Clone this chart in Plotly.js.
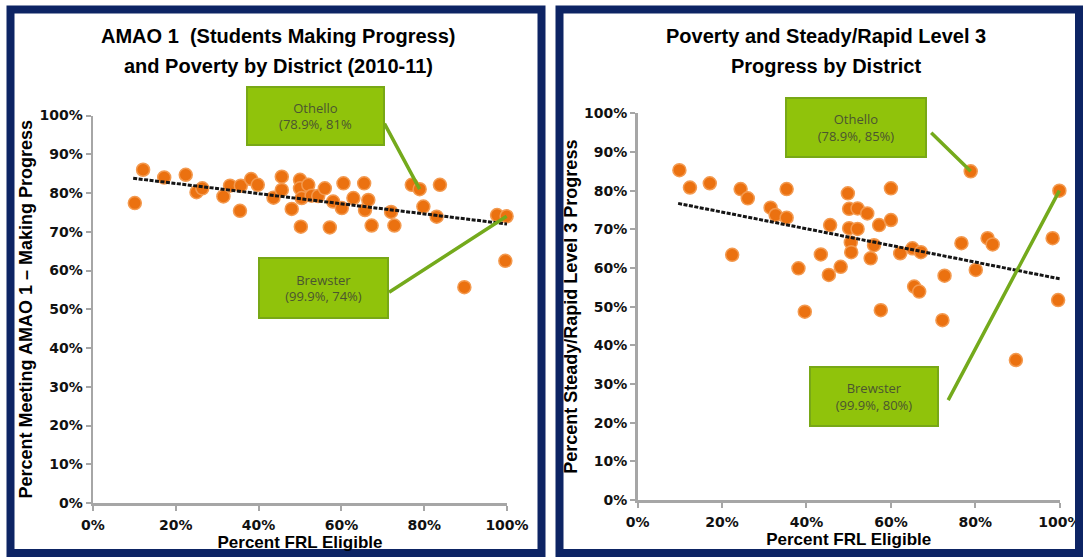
<!DOCTYPE html>
<html>
<head>
<meta charset="utf-8">
<script src="https://cdn.plot.ly/plotly-3.0.1.min.js"></script>
<style>
  html, body { margin: 0; padding: 0; background: #fff; }
  #chart { width: 1083px; height: 557px; }
</style>
</head>
<body>
<div id="chart"></div>
<script>
// ---- AMAO 1 (students making progress) vs. poverty, 2010-11, one point per district ----
const frlAmao = [10.1, 12.1, 17.2, 22.4, 25.0, 26.4, 31.5, 33.1, 35.5, 35.7, 38.2, 39.8,
                 43.6, 45.6, 45.6, 48.0, 50.0, 50.0, 50.2, 50.4, 52.0, 52.8, 54.4, 56.0,
                 57.2, 58.0, 60.1, 60.5, 62.9, 65.5, 65.7, 66.5, 67.3, 72.0, 72.8, 77.0,
                 78.9, 79.8, 83.0, 83.8, 89.7, 97.6, 99.6, 99.9];
const pctAmao = [77.4, 86.0, 84.0, 84.7, 80.2, 81.2, 79.1, 81.9, 75.4, 81.9, 83.6, 82.1,
                 78.8, 84.2, 80.8, 75.9, 83.4, 81.2, 71.3, 78.7, 82.1, 79.3, 79.2, 81.2,
                 71.1, 77.8, 76.1, 82.5, 78.7, 82.5, 75.6, 78.2, 71.6, 75.1, 71.6, 82.1,
                 81.0, 76.5, 73.9, 82.1, 55.7, 74.3, 62.5, 74.0];
const amaoTrendX = [9.7, 100];
const amaoTrendY = [83.8, 72.0];

// ---- Steady/Rapid Level 3 progress vs. poverty, one point per district ----
const frlLevel3 = [9.9, 12.4, 17.1, 22.4, 24.4, 26.1, 31.5, 32.7, 35.3, 35.3, 38.1, 39.6,
                   43.4, 45.3, 45.6, 48.1, 49.8, 50.1, 50.1, 50.5, 50.6, 52.1, 52.1, 54.4,
                   55.2, 56.0, 57.2, 57.6, 60.0, 60.0, 62.2, 65.1, 65.5, 66.7, 67.1, 72.2,
                   72.7, 76.7, 78.9, 80.1, 82.9, 84.1, 89.6, 98.3, 99.6, 99.9];
const pctLevel3 = [85.3, 80.8, 81.9, 63.4, 80.4, 78.0, 75.6, 73.7, 80.4, 73.0, 59.9, 48.7,
                   63.5, 58.2, 71.1, 60.3, 79.3, 75.3, 70.3, 66.6, 64.1, 75.4, 70.1, 74.1,
                   62.5, 65.9, 71.1, 49.1, 80.6, 72.4, 63.8, 65.1, 55.2, 53.9, 64.1, 46.5,
                   58.0, 66.4, 85.0, 59.5, 67.7, 66.1, 36.2, 67.7, 51.7, 80.0];
const level3TrendX = [9.6, 100];
const level3TrendY = [76.7, 57.2];

// ---- shared tick values and labels ----
const xTicks = [0, 20, 40, 60, 80, 100];
const yTicks = [0, 10, 20, 30, 40, 50, 60, 70, 80, 90, 100];
const pctLabel = v => '<b>' + v + '%</b>';

// ---- page geometry helpers (pixels -> paper fractions) ----
const W = 1083, H = 557;
const fx = p => p / W;
const fy = p => 1 - p / H;

const NAVY = '#0D2464';
const ORANGE = '#EB7110';
const GREEN_FILL = '#90C30B';
const GREEN_EDGE = '#78A816';
const GREEN_LINE = '#74AA1C';
const AXIS_GRAY = '#A6A6A6';

const tickFont = { family: 'DejaVu Sans', size: 14, color: '#111' };
const axisTitleFont = { family: 'Liberation Sans', size: 17, color: '#000', weight: 'bold' };

function axisX(domain, anchor) {
  return {
    domain: domain, anchor: anchor, range: [0, 100], tickmode: 'array',
    tickvals: xTicks, ticktext: xTicks.map(pctLabel),
    showgrid: false, zeroline: false, showline: true, linecolor: AXIS_GRAY, linewidth: 2.5,
    ticks: 'outside', ticklen: 5, tickwidth: 2, tickcolor: AXIS_GRAY, tickfont: tickFont,
    ticklabelstandoff: 3,
    title: { text: 'Percent FRL Eligible', font: axisTitleFont, standoff: 4 },
    fixedrange: true
  };
}
function axisY(domain, anchor, titleText) {
  return {
    domain: domain, anchor: anchor, range: [0, 100], tickmode: 'array',
    tickvals: yTicks, ticktext: yTicks.map(pctLabel),
    showgrid: false, zeroline: false, showline: true, linecolor: AXIS_GRAY, linewidth: 2.5,
    ticks: 'outside', ticklen: 5, tickwidth: 2, tickcolor: AXIS_GRAY, tickfont: tickFont,
    title: { text: titleText, font: Object.assign({}, axisTitleFont, { size: 18 }), standoff: 2 },
    fixedrange: true
  };
}

const markerStyle = { color: ORANGE, size: 13, line: { color: '#F39A50', width: 1.5 } };
const trendStyle = { color: '#151515', width: 3, dash: '4px,1.5px' };

const traces = [
  { x: frlAmao, y: pctAmao, type: 'scatter', mode: 'markers', marker: markerStyle,
    xaxis: 'x', yaxis: 'y', cliponaxis: false, hoverinfo: 'x+y' },
  { x: amaoTrendX, y: amaoTrendY, type: 'scatter', mode: 'lines', line: trendStyle,
    xaxis: 'x', yaxis: 'y', hoverinfo: 'skip' },
  { x: frlLevel3, y: pctLevel3, type: 'scatter', mode: 'markers', marker: markerStyle,
    xaxis: 'x2', yaxis: 'y2', cliponaxis: false, hoverinfo: 'x+y' },
  { x: level3TrendX, y: level3TrendY, type: 'scatter', mode: 'lines', line: trendStyle,
    xaxis: 'x2', yaxis: 'y2', hoverinfo: 'skip' }
];

// chart titles, one annotation per line
const titleFont = { family: 'Liberation Sans', size: 20, color: '#000', weight: 'bold' };
const titles = [
  { text: 'AMAO 1  (Students Making Progress)', cx: 278, cy: 36 },
  { text: 'and Poverty by District (2010-11)', cx: 278, cy: 66 },
  { text: 'Poverty and Steady/Rapid Level 3', cx: 826, cy: 36 },
  { text: 'Progress by District', cx: 826, cy: 66 }
];

// labelled districts: callout box plus a leader line to the district's point
const callouts = [
  { ax: 'x', ay: 'y', x: 78.9, y: 81, text: 'Othello<br>(78.9%, 81%',
    box: [247, 87, 384, 145], dx: -36, dy: -67 },
  { ax: 'x', ay: 'y', x: 99.9, y: 74, text: 'Brewster<br>(99.9%, 74%)',
    box: [259, 258, 388, 318], dx: -119, dy: 77 },
  { ax: 'x2', ay: 'y2', x: 78.9, y: 85, text: 'Othello<br>(78.9%, 85%)',
    box: [786, 98, 926, 157], dx: -41, dy: -40 },
  { ax: 'x2', ay: 'y2', x: 99.9, y: 80, text: 'Brewster<br>(99.9%, 80%)',
    box: [810, 367, 938, 426], dx: -112, dy: 211 }
];

const annotations = [];
titles.forEach(t => annotations.push({
  xref: 'paper', yref: 'paper', x: fx(t.cx), y: fy(t.cy), xanchor: 'center', yanchor: 'middle',
  text: t.text, showarrow: false, font: titleFont
}));
callouts.forEach(c => {
  annotations.push({
    xref: c.ax, yref: c.ay, x: c.x, y: c.y, ax: c.dx, ay: c.dy, text: '',
    showarrow: true, arrowhead: 0, arrowwidth: 3.5, arrowcolor: GREEN_LINE, standoff: 0
  });
  const [x0, y0, x1, y1] = c.box;
  annotations.push({
    xref: 'paper', yref: 'paper', x: fx((x0 + x1) / 2), y: fy((y0 + y1) / 2),
    xanchor: 'center', yanchor: 'middle', width: x1 - x0 - 2, height: y1 - y0 - 2,
    text: c.text, showarrow: false, bgcolor: GREEN_FILL, bordercolor: GREEN_EDGE,
    borderwidth: 2, borderpad: 0, align: 'center',
    font: { family: 'Open Sans', size: 13, color: '#4B5530' }
  });
});

// navy frames around the two panels
const frames = [[10.5, 9.5, 541.5, 553], [559.5, 9.5, 1079, 553]].map(r => ({
  type: 'rect', xref: 'paper', yref: 'paper', layer: 'above',
  x0: fx(r[0]), x1: fx(r[2]), y0: fy(r[3]), y1: fy(r[1]),
  line: { color: NAVY, width: 8 }, fillcolor: 'rgba(0,0,0,0)'
}));

const layout = {
  width: W, height: H, margin: { l: 0, r: 0, t: 0, b: 0 },
  paper_bgcolor: '#fff', plot_bgcolor: 'rgba(0,0,0,0)',
  showlegend: false,
  xaxis: axisX([fx(93), fx(507)], 'y'),
  yaxis: axisY([fy(503), fy(115.5)], 'x', 'Percent Meeting AMAO 1 \u2013 Making Progress'),
  xaxis2: axisX([fx(637.6), fx(1059.8)], 'y2'),
  yaxis2: axisY([fy(500), fy(113.3)], 'x2', 'Percent Steady/Rapid Level 3 Progress'),
  annotations: annotations,
  shapes: frames
};

Plotly.newPlot('chart', traces, layout, { staticPlot: true, displayModeBar: false });
</script>
</body>
</html>
